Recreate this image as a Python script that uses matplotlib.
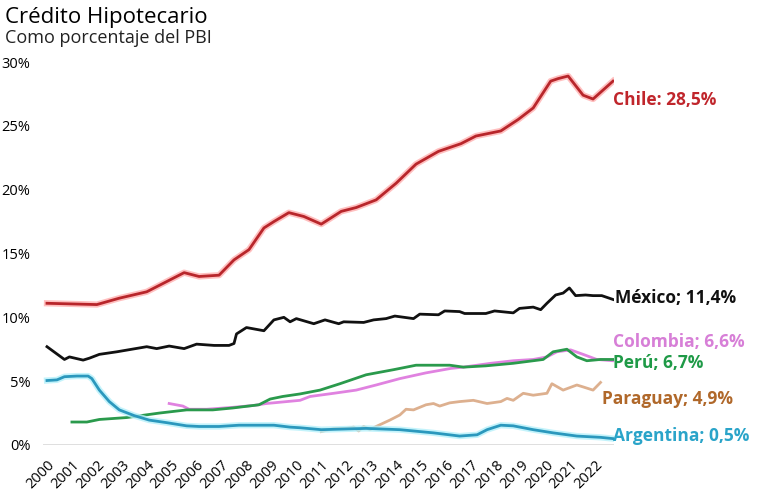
import matplotlib.pyplot as plt
import matplotlib.patheffects as pe

plt.rcParams['font.family'] = ['Open Sans', 'DejaVu Sans']

# Chile
chile_x = [2000.0, 2002.0, 2002.9, 2004.0, 2004.7, 2005.5, 2006.1, 2006.9, 2007.5, 2008.1,
           2008.7, 2009.1, 2009.7, 2010.3, 2011.0, 2011.8, 2012.4, 2013.2, 2014.0, 2014.8,
           2015.7, 2016.6, 2017.2, 2018.2, 2018.9, 2019.5, 2019.8, 2020.2, 2020.5, 2020.9,
           2021.5, 2021.9, 2022.7]
chile_y = [11.1, 11.0, 11.5, 12.0, 12.7, 13.5, 13.2, 13.3, 14.5, 15.3,
           17.0, 17.5, 18.2, 17.9, 17.3, 18.3, 18.6, 19.2, 20.5, 22.0,
           23.0, 23.6, 24.2, 24.6, 25.5, 26.4, 27.3, 28.5, 28.7, 28.9,
           27.4, 27.1, 28.5]

# México
mex_x = [2000.0, 2000.7, 2000.9, 2001.45, 2001.7, 2002.1, 2002.8, 2003.7, 2004.0, 2004.4,
         2004.9, 2005.5, 2006.0, 2006.7, 2007.3, 2007.5, 2007.6, 2008.0, 2008.7, 2009.1,
         2009.5, 2009.75, 2010.0, 2010.7, 2011.15, 2011.7, 2011.9, 2012.7, 2013.1, 2013.6,
         2013.95, 2014.7, 2014.95, 2015.7, 2015.95, 2016.55, 2016.75, 2017.6, 2017.95, 2018.7,
         2018.95, 2019.5, 2019.8, 2020.05, 2020.4, 2020.7, 2020.95, 2021.2, 2021.6, 2021.9,
         2022.25, 2022.7]
mex_y = [7.7, 6.7, 6.9, 6.65, 6.8, 7.1, 7.3, 7.6, 7.7, 7.55,
         7.75, 7.55, 7.9, 7.8, 7.8, 7.95, 8.7, 9.2, 8.95, 9.8,
         10.0, 9.65, 9.9, 9.5, 9.8, 9.5, 9.65, 9.6, 9.8, 9.9,
         10.1, 9.9, 10.25, 10.2, 10.5, 10.45, 10.3, 10.3, 10.5, 10.35,
         10.7, 10.8, 10.6, 11.1, 11.75, 11.9, 12.3, 11.7, 11.75, 11.7,
         11.7, 11.4]

# Colombia
col_x = [2004.9, 2005.45, 2005.7, 2006.4, 2007.45, 2008.3, 2008.8, 2010.15, 2010.55, 2011.5,
         2012.4, 2013.2, 2014.15, 2015.2, 2016.2, 2016.7, 2017.8, 2018.7, 2019.5, 2020.05,
         2020.45, 2021.0, 2021.5, 2022.05, 2022.7]
col_y = [3.25, 3.05, 2.8, 2.8, 2.95, 3.1, 3.25, 3.5, 3.8, 4.05,
         4.3, 4.7, 5.2, 5.65, 6.0, 6.1, 6.4, 6.6, 6.7, 6.9,
         7.3, 7.45, 7.1, 6.7, 6.6]

# Perú
peru_x = [2001.0, 2001.6, 2002.1, 2003.2, 2004.5, 2005.6, 2006.65, 2007.45, 2008.5, 2008.95,
          2009.45, 2010.15, 2010.95, 2011.75, 2012.8, 2013.9, 2014.8, 2016.15, 2016.7, 2017.6,
          2018.7, 2019.9, 2020.3, 2020.85, 2021.25, 2021.65, 2022.2, 2022.7]
peru_y = [1.8, 1.8, 2.0, 2.15, 2.5, 2.75, 2.75, 2.9, 3.15, 3.6,
          3.8, 4.0, 4.3, 4.8, 5.5, 5.9, 6.25, 6.25, 6.1, 6.2,
          6.4, 6.7, 7.3, 7.5, 6.9, 6.6, 6.7, 6.7]

# Paraguay
par_x = [2011.0, 2011.5, 2012.0, 2012.3, 2012.5, 2012.7, 2012.95, 2013.2, 2013.75, 2014.15,
         2014.4, 2014.7, 2015.2, 2015.5, 2015.75, 2016.15, 2016.55, 2017.1, 2017.65, 2018.2,
         2018.45, 2018.7, 2019.1, 2019.5, 2020.05, 2020.25, 2020.7, 2021.25, 2021.5, 2021.9,
         2022.2]
par_y = [1.05, 1.3, 1.3, 1.4, 1.1, 1.45, 1.2, 1.45, 1.95, 2.35,
         2.8, 2.75, 3.15, 3.25, 3.05, 3.3, 3.4, 3.5, 3.25, 3.4,
         3.65, 3.5, 4.05, 3.9, 4.05, 4.8, 4.3, 4.7, 4.55, 4.3,
         4.9]

# Argentina
arg_x = [2000.0, 2000.4, 2000.7, 2001.2, 2001.65, 2001.8, 2002.1, 2002.5, 2002.9, 2003.5,
         2004.1, 2004.8, 2005.6, 2006.1, 2006.9, 2007.7, 2008.5, 2009.1, 2009.75, 2010.15,
         2011.0, 2012.8, 2014.15, 2015.5, 2016.55, 2017.25, 2017.65, 2018.2, 2018.7, 2019.5,
         2020.3, 2021.25, 2022.2, 2022.7]
arg_y = [5.05, 5.1, 5.35, 5.4, 5.4, 5.2, 4.3, 3.4, 2.75, 2.3,
         1.95, 1.75, 1.5, 1.45, 1.45, 1.55, 1.55, 1.55, 1.4, 1.35,
         1.2, 1.3, 1.2, 0.95, 0.7, 0.8, 1.2, 1.55, 1.5, 1.2,
         0.95, 0.7, 0.6, 0.5]

series = [
    (chile_x, chile_y, '#b8262b', '#ffb0b0', 'Chile: 28,5%', '#c0262c', 27.0, 2022.7),
    (mex_x, mex_y, '#111111', None, 'México; 11,4%', '#111111', 11.5, 2022.8),
    (col_x, col_y, '#e082e0', None, 'Colombia; 6,6%', '#d77fd7', 8.05, 2022.7),
    (peru_x, peru_y, '#2a9a4c', None, 'Perú; 6,7%', '#1f9a47', 6.4, 2022.7),
    (par_x, par_y, '#ddb08f', None, 'Paraguay; 4,9%', '#b0682a', 3.6, 2022.25),
    (arg_x, arg_y, '#2b98bd', '#b5f0fa', 'Argentina; 0,5%', '#2aa4c9', 0.7, 2022.7),
]

fig = plt.figure(figsize=(7.8, 5.01), dpi=100)
ax = fig.add_axes([43 / 780, 56 / 501, 571 / 780, 383 / 501])

for xs, ys, color, glow, label, lcolor, ly, lx in series:
    effects = None
    if glow:
        effects = [pe.Stroke(linewidth=4.5, foreground=glow, alpha=0.8), pe.Normal()]
    ax.plot(xs, ys, color=color, lw=2, path_effects=effects, solid_joinstyle='round')
    ax.text(lx, ly, label, color=lcolor, fontsize=12.5, fontweight='bold',
            va='center', ha='left', clip_on=False)

ax.axhline(0, color='#d9d9d9', lw=1.2, zorder=0)
ax.set_xlim(1999.84, 2022.74)
ax.set_ylim(0, 30)

years = list(range(2000, 2023))
ax.set_xticks(years)
ax.set_xticklabels([str(y) for y in years], rotation=45, ha='right',
                   rotation_mode='anchor', fontsize=10.5)
ax.set_yticks([0, 5, 10, 15, 20, 25, 30])
ax.set_yticklabels(['0%', '5%', '10%', '15%', '20%', '25%', '30%'], fontsize=10.5)
ax.tick_params(length=0, pad=9, axis='x')
ax.tick_params(length=0, pad=9, axis='y')
for s in ax.spines.values():
    s.set_visible(False)

fig.text(5 / 780, 1 - 17 / 501, 'Crédito Hipotecario', fontsize=16, va='center', ha='left')
fig.text(5 / 780, 1 - 38 / 501, 'Como porcentaje del PBI', fontsize=13, va='center', ha='left',
         color='#222222')

fig.savefig('out.png', dpi=100)
